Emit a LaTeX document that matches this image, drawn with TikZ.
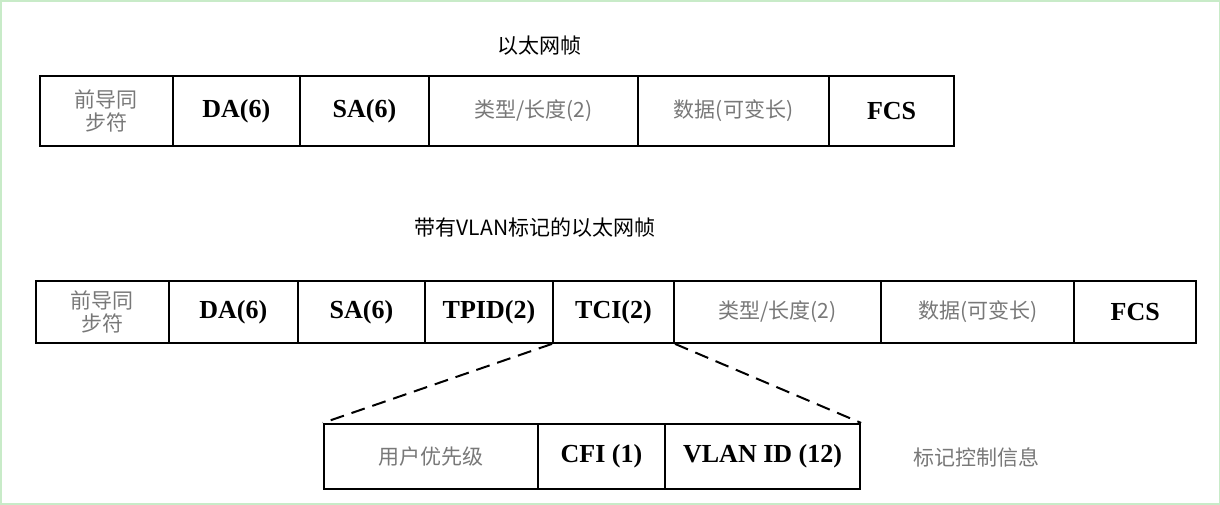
\documentclass[tikz,border=0pt]{standalone}
\usepackage{fontspec}
\setmainfont{Liberation Serif}
\newfontfamily\cjk{Noto Sans CJK SC}
\definecolor{frameg}{RGB}{200,235,200}
\definecolor{txtg}{RGB}{120,120,120}

\begin{document}
\begin{tikzpicture}[x=1pt,y=-1pt,thick,
  field/.style={draw,line width=2pt,minimum height=#1,inner sep=0pt,anchor=north west},
  lab/.style={font=\bfseries\fontsize{26}{28}\selectfont},
  cn/.style={text=txtg,font=\cjk\fontsize{21}{23}\selectfont,align=center},
  ttl/.style={font=\cjk\fontsize{21}{23}\selectfont}]

  \draw[frameg,line width=1.5pt,fill=white] (1,1) rectangle (1219,504);

  \node[ttl] (t1) at (540,46) {以太网帧};
  % plain frame
  \node[field=70pt,minimum width=133pt,cn] (p1) at (39,75) {前导同\\步符};
  \node[field=70pt,minimum width=127pt,lab] (p2) at (172,75) {DA(6)};
  \node[field=70pt,minimum width=129pt,lab] (p3) at (299,75) {SA(6)};
  \node[field=70pt,minimum width=209pt,cn] (p4) at (428,75) {类型/长度(2)};
  \node[field=70pt,minimum width=191pt,cn] (p5) at (637,75) {数据(可变长)};
  \node[field=70pt,minimum width=125pt,lab] (p6) at (828,75) {FCS};

  \node[ttl] (t2) at (535,228) {带有VLAN标记的以太网帧};
  % tagged frame
  \node[field=62pt,minimum width=133pt,cn] (q1) at (35,280) {前导同\\步符};
  \node[field=62pt,minimum width=129pt,lab] (q2) at (168,280) {DA(6)};
  \node[field=62pt,minimum width=127pt,lab] (q3) at (297,280) {SA(6)};
  \node[field=62pt,minimum width=128pt,lab] (q4) at (424,280) {TPID(2)};
  \node[field=62pt,minimum width=121pt,lab] (q5) at (552,280) {TCI(2)};
  \node[field=62pt,minimum width=207pt,cn] (q6) at (673,280) {类型/长度(2)};
  \node[field=62pt,minimum width=193pt,cn] (q7) at (880,280) {数据(可变长)};
  \node[field=62pt,minimum width=122pt,lab] (q8) at (1073,280) {FCS};

  % tag control info
  \node[field=65pt,minimum width=214pt,cn] (c1) at (323,423) {用户优先级};
  \node[field=65pt,minimum width=127pt,lab] (c2) at (537,423) {CFI (1)};
  \node[field=65pt,minimum width=195pt,lab] (c3) at (664,423) {VLAN ID (12)};
  \node[cn,anchor=west] (c4) at (910,457) {标记控制信息};

  \draw[line width=2pt,dash pattern=on 14pt off 8pt] (q5.south west) -- (c1.north west);
  \draw[line width=2pt,dash pattern=on 14pt off 8pt] (q5.south east) -- (c3.north east);
\end{tikzpicture}
\end{document}
